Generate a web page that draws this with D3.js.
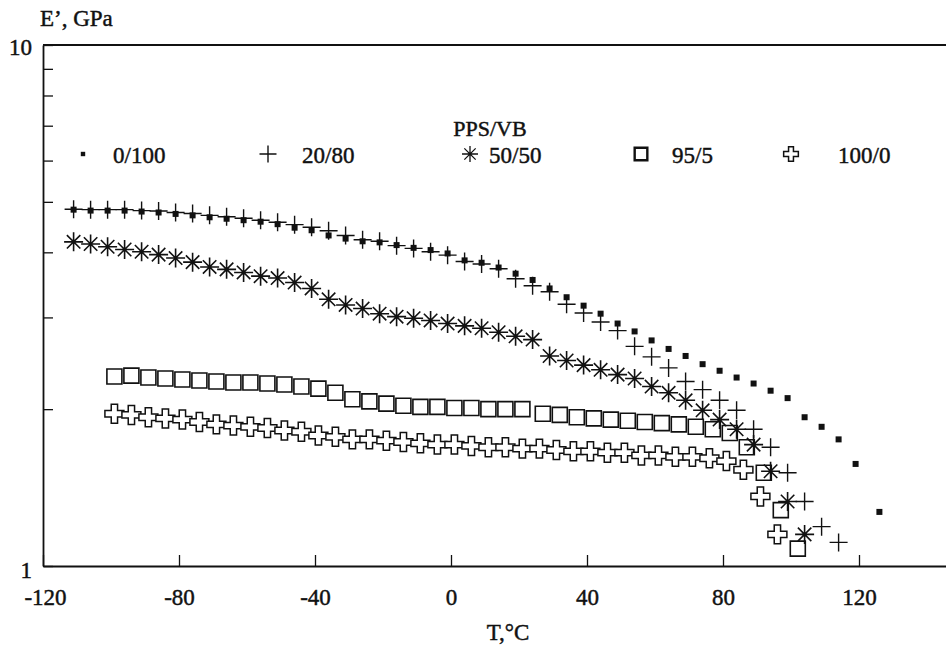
<!DOCTYPE html>
<html>
<head>
<meta charset="utf-8">
<script src="https://cdn.jsdelivr.net/npm/d3@7"></script>
<style>
  html, body { margin: 0; padding: 0; background: #fff; }
  svg { display: block; }
  text { font-family: "Liberation Serif", "DejaVu Serif", serif; fill: #111; stroke: #111; stroke-width: 0.45px; }
</style>
</head>
<body>
<svg id="chart" width="946" height="645"></svg>
<script>
// ---------------- data ----------------
const seriesNames = ["0/100", "20/80", "50/50", "95/5", "100/0"];
const legendTitle = "PPS/VB";
const xTickValues = [-120, -80, -40, 0, 40, 80, 120];
const yTickValues = [1, 2, 3, 4, 5, 6, 7, 8, 9, 10];
const yLabelValues = [1, 10];
const xTitle = "T,°C";
const yTitle = "E’, GPa";

const temp0_100 = [-111,-106,-101,-96,-91,-86,-81,-76,-71,-66,-61,-56,-51,-46,-41,-36,-31,-26,-21,-16,-11,-6,-1,4,9,14,19,24,29,34,39,44,49,54,59,64,69,74,79,84,89,94,99,104,109,114,119,126];
const mod0_100 = [4.83,4.81,4.81,4.81,4.79,4.77,4.74,4.71,4.67,4.64,4.61,4.58,4.53,4.46,4.41,4.31,4.25,4.20,4.18,
  4.13,4.08,4.04,3.98,3.86,3.82,3.74,3.64,3.54,3.41,3.28,3.16,3.05,2.92,2.82,2.71,
  2.61,2.53,2.44,2.37,2.30,2.24,2.17,2.10,
  1.93,1.85,1.75,1.57,1.27];

const temp20_80 = [-111,-106,-101,-96,-91,-86,-81,-76,-71,-66,-61,-56,-51,-46,-41,-36,-31,-26,-21,-16,-11,-6,-1,4,9,14,19,24,29,34,39,44,49,54,59,64,69,74,79,84,89,94,99,104,109,114];
const mod20_80 = [4.84,4.83,4.83,4.83,4.81,4.80,4.77,4.75,4.71,4.68,4.65,4.61,4.57,4.52,4.47,4.40,4.31,4.23,4.20,
  4.12,4.07,4.01,3.95,3.84,3.80,3.72,3.56,3.45,3.36,3.18,3.06,2.94,2.83,2.64,2.52,
  2.40,2.26,2.18,2.08,1.99,1.83,1.69,1.51,1.33,1.19,1.11];

const temp50_50 = [-111,-106,-101,-96,-91,-86,-81,-76,-71,-66,-61,-56,-51,-46,-41,-36,-31,-26,-21,-16,-11,-6,-1,4,9,14,19,24,29,34,39,44,49,54,59,64,69,74,79,84,89,94,99,104];
const mod50_50 = [4.19,4.15,4.10,4.05,4.01,3.96,3.90,3.83,3.75,3.71,3.66,3.60,3.57,3.50,3.41,3.25,3.17,
  3.12,3.05,3.01,2.99,2.96,2.92,2.89,2.86,2.81,2.76,2.72,2.53,2.48,2.43,2.38,2.33,2.29,
  2.21,2.15,2.08,1.99,1.91,1.83,1.71,1.52,1.33,1.15];

const temp95_5 = [-99,-94,-89,-84,-79,-74,-69,-64,-59,-54,-49,-44,-39,-34,-29,-24,-19,-14,-9,-4,1,6,11,16,21,
  27,32,37,42,47,52,57,62,67,72,77,82,87,92,97,102];
const mod95_5 = [2.31,2.32,2.30,2.29,2.28,2.27,2.26,2.25,2.25,2.24,2.23,2.21,2.19,2.15,2.09,2.07,2.05,
  2.03,2.02,2.02,2.01,2.01,2.00,2.00,2.00,
  1.96,1.95,1.93,1.92,1.91,1.90,1.89,1.88,1.87,1.85,1.83,1.80,1.69,1.51,1.28,1.08];

const temp100_0 = [-99,-94,-89,-84,-79,-74,-69,-64,-59,-54,-49,-44,-39,-34,-29,-24,-19,-14,-9,-4,1,6,11,16,21,26,31,36,41,46,51,56,61,66,71,76,81,86,91,96];
const mod100_0 = [1.96,1.95,1.93,1.92,1.91,1.89,1.87,1.86,1.85,1.84,
  1.82,1.81,1.78,1.77,1.75,1.75,1.74,1.73,1.72,1.71,
  1.71,1.70,1.69,1.69,1.68,1.68,1.67,1.66,1.66,1.65,
  1.65,1.63,1.63,1.62,1.62,1.61,1.59,1.53,1.36,1.15];

// ---------------- layout ----------------
const svg = d3.select("#chart");
const mLeft = 43, mTop = 45, mBottom = 566;
const x = d3.scaleLinear().domain([-120, 160]).range([mLeft, mLeft + 3.4 * 280]);
const y = d3.scaleLog().domain([1, 10]).range([mBottom, mTop]);
const ink = "#111";

// frame top line (plot box extends beyond the right edge)
svg.append("line").attr("x1", mLeft).attr("x2", 946).attr("y1", mTop).attr("y2", mTop)
  .attr("stroke", ink).attr("stroke-width", 1.8);

// x axis
const xAxis = d3.axisBottom(x).tickValues(xTickValues).tickSizeInner(-11).tickSizeOuter(0)
  .tickPadding(23).tickFormat(d3.format("d"));
const gx = svg.append("g").attr("transform", `translate(0,${mBottom})`).call(xAxis);
gx.select(".domain").attr("stroke", ink).attr("stroke-width", 1.8);
gx.selectAll(".tick line").attr("stroke", ink).attr("stroke-width", 1.3);
gx.selectAll(".tick text").attr("font-size", 23).attr("font-family", "Liberation Serif").attr("fill", ink)
  .attr("x", d => d === -120 ? 2 : 0)
  .text(d => d < 0 ? "-" + Math.abs(d) : String(d));

// y axis
const yAxis = d3.axisLeft(y).tickValues(yTickValues).tickSizeInner(-10).tickSizeOuter(0)
  .tickPadding(11).tickFormat(d => yLabelValues.includes(d) ? String(d) : "");
const gy = svg.append("g").attr("transform", `translate(${mLeft},0)`).call(yAxis);
gy.select(".domain").attr("stroke", ink).attr("stroke-width", 1.8);
gy.selectAll(".tick line").attr("stroke", ink).attr("stroke-width", 1.3);
gy.selectAll(".tick text").attr("font-size", 23).attr("font-family", "Liberation Serif").attr("fill", ink)
  .attr("dy", d => d === 1 ? "0.5em" : "0.4em");

// titles
svg.append("text").attr("x", 40).attr("y", 26).attr("font-size", 23).text(yTitle);
svg.append("text").attr("x", 508).attr("y", 640).attr("text-anchor", "middle").attr("font-size", 23).text(xTitle);

// ---------------- markers ----------------
function plusPath(s) { const h = s / 2; return `M${-h},0H${h}M0,${-h}V${h}`; }
function starPath(s) {
  const h = s / 2, d = h * Math.SQRT1_2;
  return `M${-h},0H${h}M0,${-h}V${h}M${-d},${-d}L${d},${d}M${-d},${d}L${d},${-d}`;
}
const markerDefs = [
  { name: seriesNames[0], draw: (g, big) => g.append("rect").attr("x", big ? -3 : -2.2).attr("y", big ? -3 : -2.2)
      .attr("width", big ? 6 : 4.4).attr("height", big ? 6 : 4.4).attr("fill", ink) },
  { name: seriesNames[1], draw: (g, big) => g.append("path").attr("d", plusPath(big ? 18 : 17)).attr("stroke", ink)
      .attr("stroke-width", 1.4).attr("fill", "none") },
  { name: seriesNames[2], draw: (g, big) => g.append("path").attr("d", starPath(big ? 19 : 16)).attr("stroke", ink)
      .attr("stroke-width", big ? 1.6 : 1.3).attr("fill", "none") },
  { name: seriesNames[3], draw: (g, big) => g.append("path").attr("d", d3.symbol(d3.symbolSquare, big ? 225 : 160)())
      .attr("stroke", ink).attr("stroke-width", big ? 1.6 : 2.4).attr("fill", "none") },
  { name: seriesNames[4], draw: (g, big) => g.append("path").attr("d", d3.symbol(d3.symbolCross, big ? 200 : 120)())
      .attr("stroke", ink).attr("stroke-width", 1.5).attr("fill", "#fff") }
];

const allSeries = [
  { idx: 0, t: temp0_100, e: mod0_100 },
  { idx: 1, t: temp20_80, e: mod20_80 },
  { idx: 2, t: temp50_50, e: mod50_50 },
  { idx: 3, t: temp95_5, e: mod95_5 },
  { idx: 4, t: temp100_0, e: mod100_0 }
];
// draw order: crosses, squares, asterisks, pluses, dots
const order = [4, 3, 2, 1, 0];
order.forEach(i => {
  const s = allSeries[i];
  const g = svg.append("g").attr("class", "series-" + i);
  s.t.forEach((tv, k) => {
    const mg = g.append("g").attr("transform", `translate(${x(tv)},${y(s.e[k])})`);
    markerDefs[i].draw(mg, true);
  });
});

// ---------------- legend ----------------
svg.append("text").attr("x", 490).attr("y", 136).attr("text-anchor", "middle").attr("font-size", 22).text(legendTitle);
const legendMarkerX = [83, 268, 470, 641, 791];
const legendTextX = [113, 302, 489, 672, 838];
seriesNames.forEach((n, i) => {
  const mg = svg.append("g").attr("transform", `translate(${legendMarkerX[i]},${154})`);
  markerDefs[i].draw(mg, false);
  svg.append("text").attr("x", legendTextX[i]).attr("y", 163).attr("font-size", 23).text(n);
});
</script>
</body>
</html>
